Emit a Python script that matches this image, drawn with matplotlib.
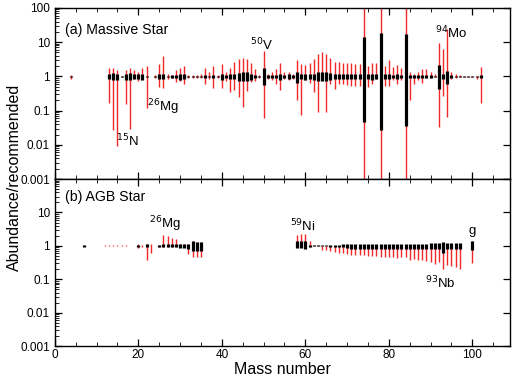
import numpy as np
import matplotlib
matplotlib.use("Agg")
import matplotlib.pyplot as plt
from matplotlib.ticker import LogLocator, FixedFormatter, FixedLocator, MultipleLocator

plt.rcParams['font.family'] = ['Liberation Sans', 'DejaVu Sans']

# ---- (a) massive star: mass, red range (lo, hi), black range (lo, hi)
ms_mass = [4, 13, 14, 15, 16, 17, 18, 19, 20, 21, 22, 24, 25, 26, 27, 28, 29, 30, 31, 32,
           33, 34, 35, 36, 37, 38, 39, 40, 41, 42, 43, 44, 45, 46, 47, 48, 49, 50, 51, 52,
           53, 54, 55, 56, 57, 58, 59, 60, 61, 62, 63, 64, 65, 66, 67, 68, 69, 70, 71, 72,
           73, 74, 75, 76, 77, 78, 79, 80, 81, 82, 83, 84, 85, 86, 87, 88, 89, 90, 91, 92,
           93, 94, 95, 96, 97, 98, 99, 100, 101, 102]
ms_red_lo = [0.85, 0.17, 0.028, 0.0095, 0.95, 0.16, 0.03, 0.85, 0.75, 0.85, 0.12, 0.9, 0.5, 0.45, 0.85, 0.9, 0.7, 0.75, 0.58, 0.9,
             0.9, 0.9, 0.9, 0.6, 0.85, 0.45, 0.92, 0.45, 0.75, 0.34, 0.4, 0.25, 0.13, 0.38, 0.7, 0.75, 0.9, 0.06, 0.85, 0.8,
             0.6, 0.4, 0.85, 0.8, 0.85, 0.2, 0.073, 0.8, 0.65, 0.35, 0.09, 0.8, 0.09, 0.6, 0.44, 0.6, 0.6, 0.56, 0.53, 0.53,
             0.53, 1e-4, 0.5, 0.6, 0.82, 1e-4, 0.54, 0.54, 0.8, 0.6, 0.8, 1e-4, 0.2, 0.6, 0.8, 0.65, 0.9, 0.9, 0.95, 0.033,
             0.27, 0.067, 0.85, 0.9, 0.95, 0.95, 0.96, 0.96, 0.85, 0.17]
ms_red_hi = [1.1, 1.8, 1.8, 1.5, 1.05, 1.5, 1.8, 1.5, 1.3, 1.8, 2.0, 1.1, 2.3, 4.0, 1.2, 1.1, 1.5, 1.7, 2.0, 1.1,
             1.1, 1.1, 1.15, 1.7, 1.3, 2.0, 1.08, 2.3, 1.3, 1.8, 2.6, 3.2, 3.4, 3.2, 2.5, 1.6, 1.1, 5.5, 1.2, 1.3,
             1.6, 2.4, 1.3, 1.3, 1.2, 3.1, 2.3, 2.1, 2.5, 3.3, 4.4, 5.2, 4.5, 3.4, 2.6, 2.6, 2.4, 2.4, 2.4, 2.25,
             2.25, 1e4, 2.0, 2.4, 2.4, 1e4, 2.0, 3.1, 1.9, 2.1, 1.7, 1e4, 1.35, 1.2, 1.3, 1.6, 1.6, 1.3, 1.2, 9.5,
             6.4, 24, 1.3, 1.2, 1.1, 1.05, 1.04, 1.04, 1.05, 1.9]
ms_blk_lo = [0.95, 0.85, 0.8, 0.8, 0.95, 0.8, 0.8, 0.85, 0.85, 0.8, 0.95, 0.95, 0.85, 0.85, 0.95, 0.9, 0.9, 0.8, 0.85, 0.95,
             0.95, 0.95, 0.95, 0.9, 0.95, 0.9, 0.95, 0.8, 0.9, 0.85, 0.85, 0.75, 0.75, 0.75, 0.8, 0.9, 0.95, 0.55, 0.92, 0.9,
             0.9, 0.8, 0.9, 0.85, 0.9, 0.65, 0.85, 0.8, 0.85, 0.8, 0.75, 0.75, 0.75, 0.8, 0.85, 0.85, 0.85, 0.85, 0.85, 0.85,
             0.85, 0.045, 0.85, 0.8, 0.85, 0.028, 0.85, 0.85, 0.88, 0.85, 0.88, 0.035, 0.9, 0.88, 0.9, 0.88, 0.92, 0.92, 0.95, 0.42,
             0.85, 0.6, 0.92, 0.95, 0.95, 0.96, 0.96, 0.96, 0.95, 0.9]
ms_blk_hi = [1.05, 1.2, 1.25, 1.2, 1.05, 1.2, 1.25, 1.2, 1.15, 1.2, 1.05, 1.05, 1.2, 1.15, 1.05, 1.1, 1.1, 1.2, 1.15, 1.05,
             1.05, 1.05, 1.05, 1.1, 1.05, 1.1, 1.05, 1.2, 1.1, 1.15, 1.15, 1.25, 1.3, 1.3, 1.2, 1.1, 1.05, 1.75, 1.08, 1.1,
             1.1, 1.15, 1.1, 1.15, 1.1, 1.3, 1.15, 1.2, 1.15, 1.2, 1.3, 1.3, 1.3, 1.25, 1.2, 1.2, 1.2, 1.2, 1.2, 1.2,
             1.2, 14, 1.2, 1.2, 1.15, 18, 1.15, 1.15, 1.12, 1.15, 1.12, 17, 1.1, 1.12, 1.1, 1.12, 1.08, 1.08, 1.05, 2.1,
             1.15, 1.4, 1.08, 1.05, 1.05, 1.04, 1.04, 1.04, 1.05, 1.12]

# ---- (b) AGB star
agb_mass = [7, 12, 13, 14, 15, 16, 17, 20, 21, 22, 23, 25, 26, 27, 28, 29, 30, 31, 32, 33,
            34, 35, 58, 59, 60, 61, 62, 63, 64, 65, 66, 67, 68, 69, 70, 71, 72, 73, 74, 75,
            76, 77, 78, 79, 80, 81, 82, 83, 84, 85, 86, 87, 88, 89, 90, 91, 92, 93, 94, 95,
            96, 97, 100]
agb_red_lo = [0.96, 0.97, 0.97, 0.97, 0.97, 0.97, 0.97, 0.85, 0.9, 0.37, 0.6, 0.92, 0.92, 0.92, 0.92, 0.92, 0.9, 0.9, 0.58, 0.46,
              0.48, 0.48, 0.9, 0.9, 0.9, 0.9, 0.96, 0.96, 0.76, 0.73, 0.68, 0.65, 0.62, 0.61, 0.58, 0.55, 0.54, 0.53, 0.52, 0.5,
              0.5, 0.49, 0.48, 0.48, 0.48, 0.48, 0.44, 0.46, 0.46, 0.38, 0.41, 0.37, 0.38, 0.35, 0.33, 0.29, 0.33, 0.21, 0.26, 0.25,
              0.24, 0.21, 0.3]
agb_red_hi = [1.04, 1.03, 1.03, 1.03, 1.03, 1.03, 1.03, 1.12, 1.05, 1.1, 1.1, 1.07, 2.1, 2.0, 1.75, 1.6, 1.1, 1.1, 1.15, 1.4,
              1.3, 1.3, 2.1, 2.3, 2.3, 1.4, 1.04, 1.04, 1.0, 1.0, 1.0, 1.0, 1.0, 1.0, 1.0, 1.0, 1.0, 1.0, 1.0, 1.0,
              1.0, 1.0, 1.0, 1.0, 1.0, 1.0, 1.0, 1.0, 1.0, 1.0, 1.0, 1.0, 1.0, 1.0, 1.0, 1.0, 1.0, 1.0, 1.0, 1.0,
              1.0, 1.0, 1.37]
agb_blk_lo = [0.95, 1.0, 1.0, 1.0, 1.0, 1.0, 1.0, 0.95, 1.0, 0.9, 1.0, 0.9, 0.92, 0.92, 0.92, 0.92, 0.85, 0.85, 0.8, 0.72,
              0.72, 0.72, 0.85, 0.85, 0.8, 0.95, 0.96, 0.96, 0.96, 0.96, 0.95, 0.95, 0.93, 0.9, 0.85, 0.82, 0.82, 0.82, 0.82, 0.82,
              0.82, 0.82, 0.82, 0.82, 0.82, 0.82, 0.82, 0.82, 0.82, 0.82, 0.82, 0.82, 0.82, 0.82, 0.8, 0.8, 0.8, 0.6, 0.78, 0.78,
              0.78, 0.78, 0.73]
agb_blk_hi = [1.05, 1.0, 1.0, 1.0, 1.0, 1.0, 1.0, 1.05, 1.0, 1.1, 1.0, 1.07, 1.1, 1.1, 1.1, 1.1, 1.1, 1.1, 1.15, 1.4,
              1.3, 1.3, 1.4, 1.4, 1.4, 1.05, 1.04, 1.04, 1.04, 1.04, 1.05, 1.05, 1.07, 1.1, 1.15, 1.15, 1.15, 1.15, 1.15, 1.15,
              1.15, 1.15, 1.15, 1.15, 1.15, 1.15, 1.15, 1.15, 1.15, 1.15, 1.15, 1.15, 1.15, 1.15, 1.18, 1.18, 1.18, 1.28, 1.18, 1.18,
              1.18, 1.18, 1.37]

ytick_vals = [0.001, 0.01, 0.1, 1, 10, 100]
ytick_text = ['0.001', '0.01', '0.1', '1', '10', '100']
RED = '#f02828'

fig = plt.figure(figsize=(5.12, 3.77), dpi=100)
ax1 = fig.add_axes([0.107, 0.525, 0.889, 0.454])
ax2 = fig.add_axes([0.107, 0.082, 0.889, 0.443])


def panel(ax, mass, rlo, rhi, blo, bhi):
    ax.vlines(mass, rlo, rhi, color=RED, lw=1.0, zorder=2)
    ax.vlines(mass, blo, bhi, color='black', lw=2.3, zorder=3)
    ax.set_yscale('log')
    ax.set_ylim(0.001, 100)
    ax.set_xlim(0, 109)
    ax.xaxis.set_major_locator(MultipleLocator(20))
    ax.xaxis.set_minor_locator(MultipleLocator(5))
    ax.yaxis.set_major_locator(FixedLocator(ytick_vals))
    ax.yaxis.set_minor_locator(LogLocator(base=10, subs=np.arange(2, 10)))
    ax.tick_params(which='both', direction='in', top=True, right=True, labelsize=8.5)
    ax.tick_params(which='major', length=5, width=0.9)
    ax.tick_params(which='minor', length=3, width=0.6, right=False)
    for s in ax.spines.values():
        s.set_linewidth(1.0)


panel(ax1, ms_mass, ms_red_lo, ms_red_hi, ms_blk_lo, ms_blk_hi)
panel(ax2, agb_mass, agb_red_lo, agb_red_hi, agb_blk_lo, agb_blk_hi)

ax1.yaxis.set_major_formatter(FixedFormatter(ytick_text))
ax1.tick_params(labelbottom=False)
ax2.yaxis.set_major_formatter(FixedFormatter(ytick_text[:-1] + ['']))
ax2.tick_params(axis='x', pad=2)

ax2.set_xlabel('Mass number', fontsize=11.5, labelpad=1)
fig.text(0.028, 0.53, 'Abundance/recommended', rotation=90, fontsize=11.5,
         ha='center', va='center')

ax1.text(2.5, 22, '(a) Massive Star', fontsize=10.2, va='center')
ax2.text(2.5, 29, '(b) AGB Star', fontsize=10.2, va='center')

lab = dict(fontsize=9.5, ha='center', va='center')
ax1.text(17.5, 0.013, r'$^{15}$N', **lab)
ax1.text(26.0, 0.13, r'$^{26}$Mg', **lab)
ax1.text(49.5, 8.0, r'$^{50}$V', **lab)
ax1.text(95.0, 18, r'$^{94}$Mo', **lab)
ax2.text(26.3, 4.5, r'$^{26}$Mg', **lab)
ax2.text(59.4, 3.9, r'$^{59}$Ni', **lab)
ax2.text(92.2, 0.075, r'$^{93}$Nb', **lab)
ax2.text(100, 2.8, 'g', **lab)

fig.savefig('out.png', dpi=100)
